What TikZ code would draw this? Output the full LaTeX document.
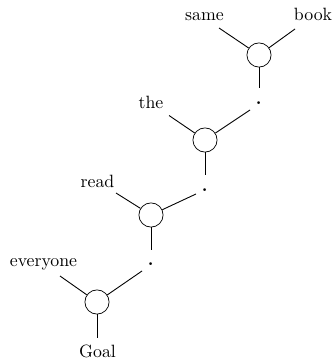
\documentclass[tikz,border=0pt]{standalone}
\begin{document}
\begin{tikzpicture}[x=0.562pt,y=-0.562pt,
  op/.style={draw,circle,minimum size=13.6pt,inner sep=0pt},
  word/.style={anchor=base,inner sep=0pt},
  link/.style={line width=0.5pt}]
\useasboundingbox (0,0) rectangle (333,363);
% circles
\node[op] (c1) at (259,55) {};
\node[op] (c2) at (205,140) {};
\node[op] (c3) at (151,215) {};
\node[op] (c4) at (97,302) {};
% words
\node[word] (same) at (204.5,21) {same};
\node[word] (book) at (313,21) {book};
\node[word] (the) at (151,109) {the};
\node[word] (read) at (97.5,188) {read};
\node[word] (every) at (43.5,266) {everyone};
\node[word] (goal) at (97.5,357) {Goal};
% dots
\node[word] (d1) at (258.7,104.5) {\textbf{.}};
\node[word] (d2) at (204.7,191.5) {\textbf{.}};
\node[word] (d3) at (150.7,265.5) {\textbf{.}};
% line ends
\coordinate (s1) at (219,28);
\coordinate (b1) at (295,29);
\coordinate (u1) at (259,88);
\coordinate (t2) at (169,115.5);
\coordinate (r2) at (250,110);
\coordinate (u2) at (205,175);
\coordinate (l3) at (116,193);
\coordinate (r3) at (196,194);
\coordinate (u3) at (151,250);
\coordinate (l4) at (60,276);
\coordinate (r4) at (142,271);
\coordinate (u4) at (97,338);
% connectors
\draw[link] (c1) -- (s1);
\draw[link] (c1) -- (b1);
\draw[link] (c1) -- (u1);
\draw[link] (c2) -- (t2);
\draw[link] (c2) -- (r2);
\draw[link] (c2) -- (u2);
\draw[link] (c3) -- (l3);
\draw[link] (c3) -- (r3);
\draw[link] (c3) -- (u3);
\draw[link] (c4) -- (l4);
\draw[link] (c4) -- (r4);
\draw[link] (c4) -- (u4);
\end{tikzpicture}
\end{document}
